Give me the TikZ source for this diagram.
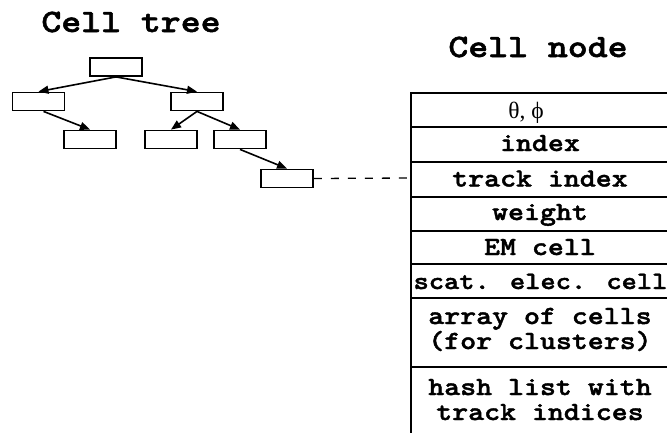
\documentclass[tikz,border=0pt]{standalone}
\usepackage{fontspec}
\newfontfamily\cmono{lmmonolt10-bold}[Extension=.otf,FakeStretch=1.16,FakeBold=1.6]
\newfontfamily\timesfont{Liberation Serif}
\usetikzlibrary{arrows.meta}
\begin{document}
\begin{tikzpicture}[x=1pt,y=-1pt,
  treebox/.style={draw,line width=1.8pt,minimum width=52pt,minimum height=18pt,inner sep=0pt},
  tarrow/.style={line width=1.6pt,-{Triangle[length=10pt,width=8pt]}},
  title/.style={font=\fontsize{32.7}{36}\cmono,anchor=base,inner sep=0pt},
  celltext/.style={font=\fontsize{26.2}{28}\cmono,anchor=base,inner sep=0pt},
  rowline/.style={line width=1.8pt}]
\useasboundingbox (0,0) rectangle (667,432);
% titles
\node[title] (t1) at (131,32) {Cell tree};
\node[title] (t2) at (538,57) {Cell node};
% tree
\node[treebox] (r) at (116,67) {};
\node[treebox] (l1) at (38.5,101.5) {};
\node[treebox] (r1) at (197,101.5) {};
\node[treebox] (a) at (90,139.5) {};
\node[treebox] (b) at (171,139.5) {};
\node[treebox] (c) at (240,139.5) {};
\node[treebox] (d) at (287,178.5) {};
\draw[tarrow] (r.south) -- (l1.north);
\draw[tarrow] (r.south) -- (r1.north);
\draw[tarrow] ([xshift=5pt]l1.south) -- (a.north);
\draw[tarrow] (r1.south) -- (b.north);
\draw[tarrow] (r1.south) -- (c.north);
\draw[tarrow] (c.south) -- (d.north);
% table
\coordinate (tl) at (411,93);
\coordinate (br) at (669,436);
\draw[rowline] (tl) rectangle (br);
\foreach \yy in {127,162,197,231,264,298,367} {\draw[rowline] (411,\yy) -- (669,\yy);}
\coordinate (trk) at (411,178);
\draw[line width=1.3pt,dash pattern=on 8pt off 9pt] (d.east) -- (trk);
\node[font=\fontsize{23.5}{24}\selectfont\timesfont,anchor=base,inner sep=0pt] (c0) at (526,118) {θ, ϕ};
\node[celltext] (c1) at (540,151) {index};
\node[celltext] (c2) at (540,186.5) {track index};
\node[celltext] (c3) at (540,220) {weight};
\node[celltext] (c4) at (540,255) {EM cell};
\node[celltext,font=\fontsize{25}{28}\cmono] (c5) at (540.5,289) {scat. elec. cell};
\node[celltext] (c6a) at (540,324) {array of cells};
\node[celltext] (c6b) at (540,349) {(for clusters)};
\node[celltext] (c7a) at (540,395) {hash list with};
\node[celltext] (c7b) at (540,420) {track indices};
\end{tikzpicture}
\end{document}
